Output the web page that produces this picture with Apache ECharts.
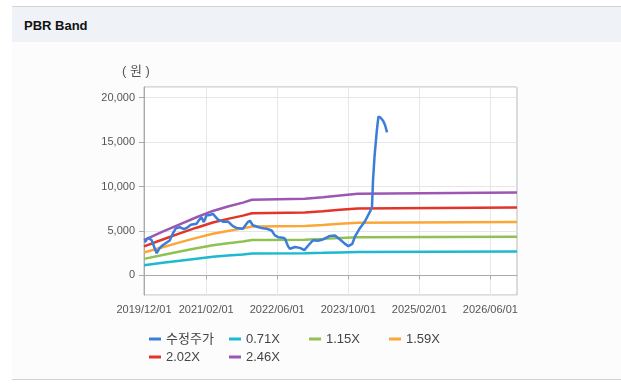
<!DOCTYPE html>
<html><head><meta charset="utf-8">
<script src="https://cdn.jsdelivr.net/npm/echarts@6/dist/echarts.min.js"></script>
<style>
html,body{margin:0;padding:0;width:621px;height:387px;background:#fff;overflow:hidden;font-family:"Liberation Sans",Arial,sans-serif;}
#panel{position:absolute;left:12px;top:6px;width:609px;height:374px;background:#fcfcfc;border-top:1px solid #d2d2d2;border-bottom:1px solid #d2d2d2;box-sizing:border-box;}
#head{position:absolute;left:12px;top:7px;width:609px;height:35px;background:#eff2f7;}
#title{position:absolute;left:24px;top:18px;line-height:15px;font-weight:bold;font-size:13px;color:#111;}
#chart{position:absolute;left:0;top:0;width:621px;height:387px;}
</style></head>
<body>
<div id="panel"></div>
<div id="head"></div>
<div id="title">PBR Band</div>
<div id="chart"></div>
<script>
const tickLabels = ['2019/12/01','2021/02/01','2022/06/01','2023/10/01','2025/02/01','2026/06/01'];
const axisStart = '2019-12-01';
const axisEnd = '2026-12-01';

const priceDates = ['2019-12-06','2019-12-30','2020-01-23','2020-02-09','2020-02-26','2020-03-18','2020-04-07','2020-05-05','2020-05-25','2020-06-15','2020-07-06','2020-08-02','2020-08-30','2020-09-19','2020-10-17','2020-11-25','2020-12-11','2020-12-29','2021-01-14','2021-02-01','2021-02-24','2021-03-17','2021-03-30','2021-04-20','2021-05-24','2021-06-28','2021-08-01','2021-08-26','2021-10-09','2021-11-12','2021-11-26','2021-12-16','2022-01-20','2022-02-23','2022-03-22','2022-04-24','2022-05-16','2022-06-08','2022-07-10','2022-07-24','2022-08-14','2022-08-27','2022-10-01','2022-11-04','2022-12-04','2022-12-31','2023-02-01','2023-03-08','2023-04-11','2023-05-29','2023-07-02','2023-08-06','2023-09-09','2023-10-02','2023-10-29','2023-11-17','2023-12-21','2024-01-24','2024-02-28','2024-03-12','2024-03-19','2024-03-29','2024-04-14','2024-04-25','2024-05-10','2024-05-27','2024-06-10','2024-06-23'];
const priceValues = [3740,4250,3950,3200,2500,3100,3400,3700,3930,4700,5300,5430,5200,5350,5700,5810,6200,6550,6000,6740,6800,6930,7000,6300,6050,6080,5550,5350,5250,6000,6150,5650,5450,5300,5250,5060,4500,4300,4250,4150,3300,3000,3200,3100,2850,3370,3950,3900,4050,4450,4490,4050,3550,3300,3560,4400,5350,6100,7200,7700,10700,13300,16300,17865,17750,17400,16900,16100];

const bandDates = ['2019-12-01','2020-04-07','2020-08-02','2020-11-25','2021-03-17','2021-06-28','2021-10-09','2021-12-10','2022-12-07','2022-12-08','2023-04-10','2023-04-11','2023-08-05','2023-08-06','2023-12-06','2023-12-07','2026-12-01'];
const band071 = [1150,1420,1661,1889,2095,2237,2364,2457,2487,2540,2540,2594,2594,2650,2650,2691,2691];
const band115 = [1863,2300,2691,3059,3393,3623,3830,3979,4028,4114,4114,4202,4202,4292,4292,4359,4359];
const band159 = [2576,3180,3721,4229,4691,5009,5295,5501,5570,5687,5687,5810,5810,5934,5934,6026,6026];
const band202 = [3272,4040,4727,5373,5959,6363,6727,6989,7076,7226,7226,7381,7381,7539,7539,7656,7656];
const band246 = [3985,4920,5756,6544,7257,7749,8192,8512,8617,8799,8799,8989,8989,9181,9181,9323,9323];

const seriesNames = ['수정주가','0.71X','1.15X','1.59X','2.02X','2.46X'];
const seriesColors = ['#3b7dd8','#1cb9cf','#8fc153','#fba738','#e3342a','#9c56b4'];

// monthly categories for the visible axis
const months = [];
{
  let y = 2019, m = 12;
  while (y < 2026 || (y === 2026 && m <= 12)) {
    months.push(y + '/' + String(m).padStart(2,'0') + '/01');
    m++; if (m > 12) { m = 1; y++; }
  }
}
const showTick = (idx, val) => tickLabels.indexOf(val) >= 0;

function zip(dates, vals){ return dates.map((d,i)=>[d, vals[i]]); }
const bandData = [band071, band115, band159, band202, band246];

const FONT = '"Liberation Sans", "Noto Sans CJK KR", sans-serif';
const chart = echarts.init(document.getElementById('chart'), null, {renderer:'canvas'});

const series = [{
  name: seriesNames[0], type:'line', xAxisIndex:1, yAxisIndex:0,
  data: zip(priceDates, priceValues), showSymbol:false, symbol:'none', z:5,
  lineStyle:{width:2.5, color:seriesColors[0]}, itemStyle:{color:seriesColors[0]}
}];
bandData.forEach((b,i)=>{
  series.push({
    name: seriesNames[i+1], type:'line', xAxisIndex:1, yAxisIndex:0,
    data: zip(bandDates, b), showSymbol:false, symbol:'none', z:3,
    lineStyle:{width:2.5, color:seriesColors[i+1]}, itemStyle:{color:seriesColors[i+1]}
  });
});

chart.setOption({
  animation:false,
  textStyle:{fontFamily:FONT},
  graphic:[{type:'text', left:122, top:65, style:{text:'( 원 )', fontSize:13, fill:'#555', fontFamily:FONT}}],
  grid:{left:144, right:104, top:87, bottom:92, show:true, borderColor:'#b8b8b8', borderWidth:1, backgroundColor:'#ffffff'},
  legend:{
    data: seriesNames, left:149, top:332, width:330, padding:0,
    icon:'rect', itemWidth:12, itemHeight:3, itemGap:4,
    textStyle:{fontSize:13, color:'#444', width:59, lineHeight:14, fontFamily:FONT}
  },
  xAxis:[{
    type:'category', data:months, boundaryGap:false,
    axisLine:{lineStyle:{color:'#aaaaaa'}},
    axisTick:{show:true, interval:showTick, length:4, lineStyle:{color:'#aaaaaa'}},
    axisLabel:{interval:showTick, color:'#555', fontSize:11, margin:9, fontFamily:FONT},
    splitLine:{show:true, interval:showTick, lineStyle:{color:'#e6e6e6'}}
  },{
    type:'time', min:axisStart, max:axisEnd, show:false,
    splitLine:{show:false}
  }],
  yAxis:[{
    type:'value', min:-2200, max:21200,
    axisLine:{show:true, lineStyle:{color:'#aaaaaa'}},
    axisTick:{show:true, length:5, lineStyle:{color:'#aaaaaa'}},
    axisLabel:{color:'#555', fontSize:11, margin:9, showMinLabel:false, showMaxLabel:false, fontFamily:FONT},
    splitLine:{show:true, lineStyle:{color:'#e6e6e6'}}
  }],
  series: series
});
</script>
</body></html>
